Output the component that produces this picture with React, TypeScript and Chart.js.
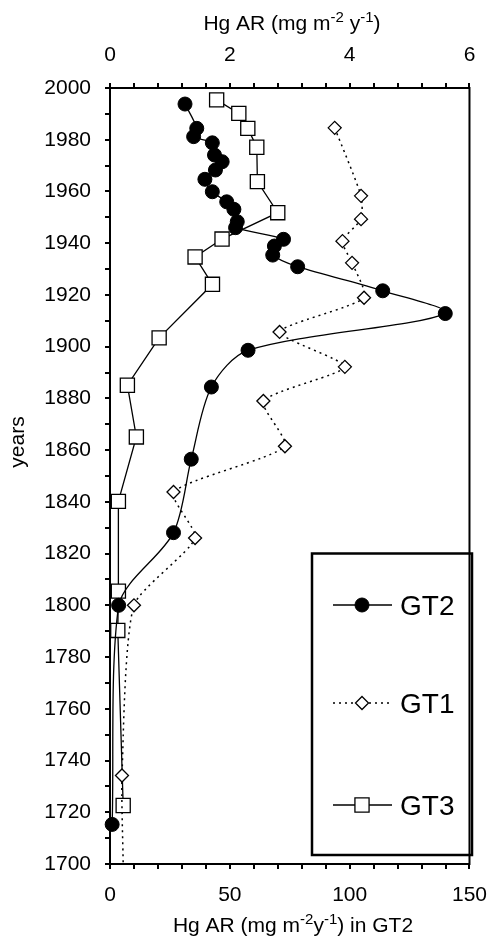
import React, { useEffect, useRef } from 'react';
import { Chart, registerables } from 'chart.js';

Chart.register(...registerables);

// ---- Data ----
const seriesLabels = ['GT2', 'GT1', 'GT3'];

// GT2 : bottom axis (mg m-2 y-1)
const gt2Years = [1993.8, 1984.4, 1981.2, 1978.8, 1974.1, 1971.5, 1968.3, 1964.7, 1959.9, 1956.0, 1953.1, 1948.3, 1946.0, 1941.5, 1938.9, 1935.4, 1930.9, 1921.6, 1912.8, 1898.6, 1884.4, 1856.5, 1828.1, 1800.0, 1715.3];
const gt2Values = [31.3, 36.2, 34.9, 42.7, 43.6, 46.8, 44.0, 39.6, 42.7, 48.7, 51.7, 53.1, 52.4, 72.4, 68.6, 67.9, 78.3, 113.8, 139.9, 57.6, 42.3, 33.9, 26.5, 3.6, 0.9];

// GT1 : top axis
const gt1Years = [1984.6, 1958.3, 1949.3, 1940.8, 1932.4, 1918.9, 1905.7, 1892.2, 1879.0, 1861.5, 1843.8, 1826.0, 1800.0, 1734.2, 1700.0];
const gt1Values = [3.75, 4.19, 4.19, 3.88, 4.04, 4.24, 2.83, 3.92, 2.56, 2.92, 1.06, 1.42, 0.40, 0.20, 0.22];

// GT3 : top axis
const gt3Years = [1995.4, 1990.2, 1984.4, 1977.1, 1963.8, 1951.8, 1941.6, 1934.7, 1924.1, 1903.4, 1885.1, 1865.1, 1840.2, 1805.5, 1790.3, 1722.6];
const gt3Values = [1.78, 2.15, 2.30, 2.45, 2.46, 2.80, 1.87, 1.42, 1.71, 0.82, 0.29, 0.44, 0.14, 0.14, 0.13, 0.22];

const bottomTickLabels = [0, 50, 100, 150];
const topTickLabels = [0, 2, 4, 6];
const yearTickLabels = [1700, 1720, 1740, 1760, 1780, 1800, 1820, 1840, 1860, 1880, 1900, 1920, 1940, 1960, 1980, 2000];

const FONT = '"Liberation Sans", Arial, Helvetica, sans-serif';

type Part = { t: string; sup?: boolean };

function drawRich(ctx: CanvasRenderingContext2D, parts: Part[], cx: number, baseline: number, size: number, supSize: number, rise: number) {
  ctx.textAlign = 'left';
  ctx.textBaseline = 'alphabetic';
  let total = 0;
  const widths = parts.map((p) => {
    ctx.font = `${p.sup ? supSize : size}px ${FONT}`;
    const w = ctx.measureText(p.t).width;
    total += w;
    return w;
  });
  let x = cx - total / 2;
  parts.forEach((p, i) => {
    ctx.font = `${p.sup ? supSize : size}px ${FONT}`;
    ctx.fillText(p.t, x, p.sup ? baseline - rise : baseline);
    x += widths[i];
  });
}

function drawMarker(ctx: CanvasRenderingContext2D, style: string, x: number, y: number, r: number, fill: string, stroke: string, bw: number) {
  ctx.save();
  ctx.setLineDash([]);
  ctx.beginPath();
  if (style === 'circle') {
    ctx.arc(x, y, r, 0, Math.PI * 2);
  } else if (style === 'rect') {
    const s = Math.SQRT1_2 * r;
    ctx.rect(x - s, y - s, 2 * s, 2 * s);
  } else {
    ctx.moveTo(x, y - r);
    ctx.lineTo(x + r, y);
    ctx.lineTo(x, y + r);
    ctx.lineTo(x - r, y);
    ctx.closePath();
  }
  ctx.fillStyle = fill;
  ctx.fill();
  ctx.lineWidth = bw;
  ctx.strokeStyle = stroke;
  ctx.stroke();
  ctx.restore();
}

const decorPlugin = {
  id: 'decor',
  beforeDatasetsDraw(chart: any) {
    const { ctx, chartArea } = chart;
    ctx.save();
    ctx.lineWidth = 2;
    ctx.strokeStyle = '#000';
    ctx.strokeRect(chartArea.left, chartArea.top, chartArea.right - chartArea.left, chartArea.bottom - chartArea.top);
    ctx.restore();
  },
  afterDraw(chart: any) {
    const { ctx } = chart;
    ctx.save();
    ctx.fillStyle = '#000';
    // top title
    drawRich(ctx, [{ t: 'Hg AR (mg m' }, { t: '-2', sup: true }, { t: ' y' }, { t: '-1', sup: true }, { t: ')' }], 292, 29.5, 21, 15, 8);
    // bottom title
    drawRich(ctx, [{ t: 'Hg AR (mg m' }, { t: '-2', sup: true }, { t: 'y' }, { t: '-1', sup: true }, { t: ') in GT2' }], 293, 932, 21, 15, 8);
    // y title
    ctx.save();
    ctx.translate(24, 442);
    ctx.rotate(-Math.PI / 2);
    ctx.font = `21px ${FONT}`;
    ctx.textAlign = 'center';
    ctx.textBaseline = 'alphabetic';
    ctx.fillText('years', 0, 0);
    ctx.restore();

    // legend box
    const bx = 312, by = 553.5, bw = 160, bh = 301.5;
    ctx.lineWidth = 2.5;
    ctx.strokeStyle = '#000';
    ctx.strokeRect(bx, by, bw, bh);
    const rows = [605, 703, 805];
    chart.data.datasets.forEach((ds: any, i: number) => {
      const y = rows[i];
      ctx.save();
      ctx.lineWidth = ds.borderWidth;
      ctx.strokeStyle = '#000';
      ctx.setLineDash(ds.borderDash || []);
      ctx.beginPath();
      ctx.moveTo(333, y);
      ctx.lineTo(392, y);
      ctx.stroke();
      ctx.restore();
      const r = Array.isArray(ds.pointRadius) ? ds.pointRadius[0] : ds.pointRadius;
      drawMarker(ctx, ds.pointStyle, 362, y, r, ds.pointBackgroundColor, ds.pointBorderColor, ds.pointBorderWidth);
      ctx.fillStyle = '#000';
      ctx.font = `28px ${FONT}`;
      ctx.textAlign = 'left';
      ctx.textBaseline = 'alphabetic';
      ctx.fillText(ds.label, 400, y + 10);
    });
    ctx.restore();
  },
};

function zip(xs: number[], ys: number[]) {
  return xs.map((x, i) => ({ x, y: ys[i] }));
}

export default function App() {
  const ref = useRef<HTMLCanvasElement>(null);
  useEffect(() => {
    document.body.style.margin = '0';
    const tickFont = { family: FONT, size: 21 };
    const grid = { drawOnChartArea: false, drawTicks: true, tickLength: 5, color: '#000', lineWidth: 2 };
    const gt1Radius = gt1Values.map((_, i) => (i === gt1Values.length - 1 ? 0 : 6.5));
    const chart = new Chart(ref.current as HTMLCanvasElement, {
      type: 'scatter',
      data: {
        datasets: [
          {
            label: seriesLabels[0],
            data: zip(gt2Values, gt2Years),
            xAxisID: 'x',
            yAxisID: 'y',
            showLine: true,
            borderColor: '#000',
            borderWidth: 1.3,
            backgroundColor: '#000',
            pointStyle: 'circle',
            pointRadius: 7,
            pointBackgroundColor: '#000',
            pointBorderColor: '#000',
            pointBorderWidth: 1,
            tension: 0.3,
            clip: false,
          } as any,
          {
            label: seriesLabels[1],
            data: zip(gt1Values, gt1Years),
            xAxisID: 'x2',
            yAxisID: 'y',
            showLine: true,
            borderColor: '#000',
            borderWidth: 1.5,
            borderDash: [2, 4],
            pointStyle: 'rectRot',
            pointRadius: gt1Radius,
            pointBackgroundColor: '#fff',
            pointBorderColor: '#000',
            pointBorderWidth: 1.3,
            tension: 0.2,
            clip: false,
          } as any,
          {
            label: seriesLabels[2],
            data: zip(gt3Values, gt3Years),
            xAxisID: 'x2',
            yAxisID: 'y',
            showLine: true,
            borderColor: '#000',
            borderWidth: 1.3,
            pointStyle: 'rect',
            pointRadius: 10,
            pointBackgroundColor: '#fff',
            pointBorderColor: '#000',
            pointBorderWidth: 1.3,
            tension: 0,
            clip: false,
          } as any,
        ],
      },
      options: {
        responsive: false,
        animation: false,
        devicePixelRatio: 1,
        events: [],
        layout: { padding: { left: 0, right: 20, top: 0, bottom: 0 } },
        plugins: { legend: { display: false }, tooltip: { enabled: false }, title: { display: false } },
        scales: {
          x: {
            type: 'linear',
            position: 'bottom',
            min: 0,
            max: 150,
            grid,
            border: { display: false },
            ticks: {
              stepSize: 10,
              autoSkip: false,
              maxRotation: 0,
              padding: 14,
              color: '#000',
              font: tickFont,
              callback: (v: any) => (bottomTickLabels.some((l) => Math.abs(l - v) < 1e-6) ? String(v) : ''),
            },
            afterFit: (s: any) => {
              s.height = 78;
            },
          },
          x2: {
            type: 'linear',
            position: 'top',
            min: 0,
            max: 6,
            grid,
            border: { display: false },
            ticks: {
              stepSize: 0.4,
              autoSkip: false,
              maxRotation: 0,
              padding: 15,
              color: '#000',
              font: tickFont,
              callback: (v: any) => {
                const l = topTickLabels.find((t) => Math.abs(t - v) < 1e-6);
                return l === undefined ? '' : String(l);
              },
            },
            afterFit: (s: any) => {
              s.height = 88;
            },
          },
          y: {
            type: 'linear',
            position: 'left',
            min: 1700,
            max: 2000,
            grid,
            border: { display: false },
            ticks: {
              stepSize: 10,
              autoSkip: false,
              padding: 14,
              color: '#000',
              font: tickFont,
              callback: (v: any) => (yearTickLabels.some((l) => Math.abs(l - v) < 1e-6) ? String(v) : ''),
            },
            afterFit: (s: any) => {
              s.width = 110;
            },
          },
        },
      } as any,
      plugins: [decorPlugin],
    });
    return () => chart.destroy();
  }, []);
  return (
    <div style={{ width: 501, height: 942, position: 'relative', background: '#fff' }}>
      <canvas ref={ref} width={501} height={942} style={{ width: 501, height: 942, display: 'block' }} />
    </div>
  );
}
